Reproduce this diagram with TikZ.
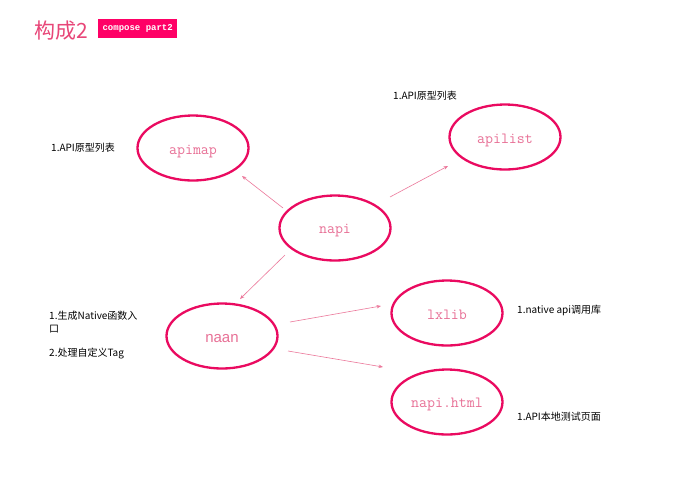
\documentclass[tikz,border=0pt]{standalone}
\usepackage{fontspec}
\setmainfont{Liberation Sans}
\newfontfamily\cjk{Noto Sans CJK SC}
\newfontfamily\monof{Liberation Mono}
\usetikzlibrary{shapes.geometric,calc,arrows.meta}
\definecolor{ering}{RGB}{234,10,96}
\definecolor{lbl}{RGB}{232,112,150}
\definecolor{arrc}{RGB}{236,120,155}
\definecolor{ttl}{RGB}{232,70,120}
\definecolor{boxc}{RGB}{255,0,102}
\begin{document}
\begin{tikzpicture}[x=1pt,y=-1pt,
  bub/.style={ellipse,draw=ering,line width=2.3pt,minimum width=111pt,minimum height=65pt,inner sep=0pt},
  lab/.style={font=\ttfamily\fontsize{15.5}{17}\selectfont,text=lbl,inner sep=0pt},
  arr/.style={draw=arrc,line width=0.6pt,-{Stealth[length=4.5pt,width=3.5pt]}},
  note/.style={anchor=west,font=\cjk\fontsize{10}{12}\selectfont,inner sep=0pt,text=black}]
\useasboundingbox[fill=white] (0,0) rectangle (678,483);
% title
\node[anchor=west,inner sep=0pt,text=ttl,font=\cjk\fontsize{21}{24}\selectfont] (title) at (34,31) {构成2};
\node[anchor=west,fill=boxc,text=white,inner sep=0pt,minimum width=79pt,minimum height=19pt,
  font=\monof\bfseries\fontsize{9}{10}\selectfont] (sub) at (98,28.5) {compose part2};
% ellipses
\node[bub] (apimap) at (193,148) {};
\node[bub] (napi) at (335,228) {};
\node[bub] (apilist) at (505,137) {};
\node[bub] (naan) at (222,336) {};
\node[bub] (lxlib) at (447,313) {};
\node[bub] (html) at (447,402) {};
% labels
\node[lab] (apimapt) at ($(apimap)+(0,4)$) {apimap};
\node[lab] (napit) at ($(napi)+(0,3)$) {napi};
\node[lab] (apilistt) at ($(apilist)+(0,3)$) {apilist};
\node[lab,font=\fontsize{15}{17}\selectfont] (naant) at ($(naan)+(0,3)$) {naan};
\node[lab] (lxlibt) at ($(lxlib)+(0,2)$) {lxlib};
\node[lab] (htmlt) at ($(html)+(0,2)$) {napi.html};
% arrows
\draw[arr] ($(napi)+(-52,-20)$) -- ($(apimap)+(49,28)$);
\draw[arr] ($(napi)+(55,-31)$) -- ($(apilist)+(-57,29)$);
\draw[arr] ($(napi)+(-50,27)$) -- ($(naan)+(18,-37)$);
\draw[arr] ($(naan)+(68,-14)$) -- ($(lxlib)+(-66,-7)$);
\draw[arr] ($(naan)+(66,15)$) -- ($(html)+(-64,-35)$);
% notes
\node[note] (n1) at (51,148) {1.API原型列表};
\node[note] (n2) at (393,96) {1.API原型列表};
\node[note] (n3) at (49,316) {1.生成Native函数入};
\node[note] (n3b) at (49,329) {口};
\node[note] (n4) at (49,354) {2.处理自定义Tag};
\node[note] (n5) at (517,310) {1.native api调用库};
\node[note] (n6) at (517,417) {1.API本地测试页面};
\end{tikzpicture}
\end{document}
